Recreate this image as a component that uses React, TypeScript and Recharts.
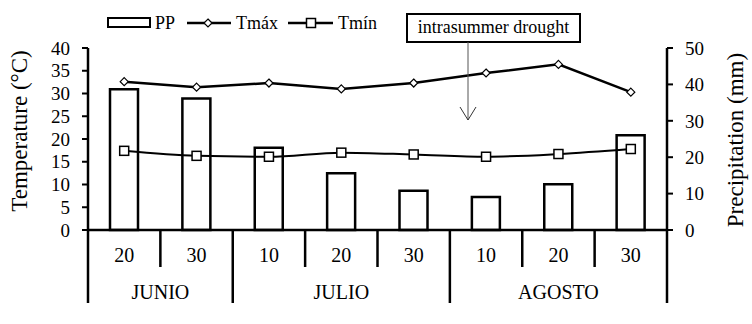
import { Bar, ComposedChart, Line, XAxis, YAxis } from "recharts";

// dekads (day of month) and month groups
const days = ["20", "30", "10", "20", "30", "10", "20", "30"];
const months = ["JUNIO", "JULIO", "AGOSTO"];
const monthSpans = [2, 3, 3];

// PP in mm, temperatures in °C
const precipitation = [38.7, 36.1, 22.6, 15.6, 10.8, 9.1, 12.6, 26.0];
const tMax = [32.6, 31.4, 32.3, 31.0, 32.3, 34.5, 36.4, 30.3];
const tMin = [17.4, 16.3, 16.1, 17.0, 16.6, 16.1, 16.7, 17.8];

const tempTicks = [0, 5, 10, 15, 20, 25, 30, 35, 40];
const precipTicks = [0, 10, 20, 30, 40, 50];

const data = days.map((d, i) => ({
  id: `${i}-${d}`,
  pp: precipitation[i],
  tmax: tMax[i],
  tmin: tMin[i],
}));

const W = 752;
const H = 324;
const LEFT = 88;
const RIGHT = 85;
const TOP = 48;
const BOTTOM = 94;
const AXIS_Y = H - BOTTOM;
const BAND = (W - LEFT - RIGHT) / days.length;
const FONT = "Liberation Serif, Times New Roman, DejaVu Serif, serif";

const monthStarts = monthSpans.map((_, m) => monthSpans.slice(0, m).reduce((a, b) => a + b, 0));

function DayTick(props: any) {
  const { x, index } = props;
  const half = BAND / 2;
  const m = monthStarts.indexOf(index);
  const isStart = m >= 0;
  const isLast = index === days.length - 1;
  return (
    <g>
      <text x={x} y={AXIS_Y + 32} textAnchor="middle" fontSize={20} fill="#000" fontFamily={FONT}>
        {days[index]}
      </text>
      <line
        x1={x - half}
        x2={x - half}
        y1={AXIS_Y}
        y2={isStart ? AXIS_Y + 73 : AXIS_Y + 37}
        stroke="#000"
        strokeWidth={2.5}
      />
      {isLast && (
        <line x1={x + half} x2={x + half} y1={AXIS_Y} y2={AXIS_Y + 73} stroke="#000" strokeWidth={2.5} />
      )}
      {isStart && (
        <text
          x={x - half + (monthSpans[m] * BAND) / 2}
          y={AXIS_Y + 69}
          textAnchor="middle"
          fontSize={20}
          fill="#000"
          fontFamily={FONT}
        >
          {months[m]}
        </text>
      )}
    </g>
  );
}

function Diamond(props: any) {
  const { cx, cy } = props;
  if (cx == null || cy == null) return null;
  const r = 4;
  return (
    <path
      d={`M${cx},${cy - r}L${cx + r},${cy}L${cx},${cy + r}L${cx - r},${cy}Z`}
      fill="#fff"
      stroke="#000"
      strokeWidth={1.2}
    />
  );
}

function Square(props: any) {
  const { cx, cy } = props;
  if (cx == null || cy == null) return null;
  const s = 9;
  return <rect x={cx - s / 2} y={cy - s / 2} width={s} height={s} fill="#fff" stroke="#000" strokeWidth={1.5} />;
}

const axisTick = { fill: "#000", fontSize: 19, fontFamily: FONT };

export default function App() {
  return (
    <div style={{ position: "relative", width: W, height: H, fontFamily: FONT, background: "#fff" }}>
      <style>{`body{margin:0}`}</style>
      <ComposedChart width={W} height={H} data={data} margin={{ top: TOP, right: 0, bottom: 0, left: 0 }}>
        <XAxis
          dataKey="id"
          height={BOTTOM}
          interval={0}
          tickLine={false}
          axisLine={{ stroke: "#000", strokeWidth: 2.5 }}
          tick={<DayTick />}
        />
        <YAxis
          yAxisId="temp"
          width={LEFT}
          domain={[0, 40]}
          ticks={tempTicks}
          interval={0}
          tickSize={6}
          tickMargin={12}
          axisLine={{ stroke: "#000", strokeWidth: 2.5 }}
          tickLine={{ stroke: "#000", strokeWidth: 2 }}
          tick={axisTick}
        />
        <YAxis
          yAxisId="pp"
          orientation="right"
          width={RIGHT}
          domain={[0, 50]}
          ticks={precipTicks}
          interval={0}
          tickSize={6}
          tickMargin={12}
          axisLine={{ stroke: "#000", strokeWidth: 2.5 }}
          tickLine={{ stroke: "#000", strokeWidth: 2 }}
          tick={axisTick}
        />
        <Bar yAxisId="pp" dataKey="pp" barSize={28} fill="#fff" stroke="#000" strokeWidth={2.5} isAnimationActive={false} />
        <Line
          yAxisId="temp"
          dataKey="tmax"
          type="linear"
          stroke="#000"
          strokeWidth={2.5}
          dot={<Diamond />}
          isAnimationActive={false}
        />
        <Line
          yAxisId="temp"
          dataKey="tmin"
          type="monotone"
          stroke="#000"
          strokeWidth={2}
          dot={<Square />}
          isAnimationActive={false}
        />
      </ComposedChart>

      <svg
        width={W}
        height={H}
        fontFamily={FONT}
        style={{ position: "absolute", left: 0, top: 0, pointerEvents: "none" }}
      >
        {/* axis titles */}
        <text x={19} y={131} fontSize={23} textAnchor="middle" dominantBaseline="central" transform="rotate(-90 19 131)">
          Temperature (°C)
        </text>
        <text x={735} y={140} fontSize={23} textAnchor="middle" dominantBaseline="central" transform="rotate(-90 735 140)">
          Precipitation (mm)
        </text>

        {/* legend */}
        <rect x={108} y={18} width={42} height={9} fill="#fff" stroke="#000" strokeWidth={2} />
        <text x={155} y={29} fontSize={18}>PP</text>
        <line x1={187} x2={231} y1={23} y2={23} stroke="#000" strokeWidth={2.5} />
        <Diamond cx={208} cy={23} />
        <text x={236} y={29} fontSize={18}>Tmáx</text>
        <line x1={288} x2={333} y1={23} y2={23} stroke="#000" strokeWidth={2.5} />
        <Square cx={311} cy={23} />
        <text x={338} y={29} fontSize={18}>Tmín</text>

        {/* annotation */}
        <rect x={407} y={14} width={173} height={28} fill="#fff" stroke="#000" strokeWidth={2} />
        <text x={493.5} y={33} fontSize={18} textAnchor="middle">intrasummer drought</text>
        <line x1={468} x2={468} y1={42} y2={120} stroke="#555" strokeWidth={1} />
        <polyline points="460,107 468,120 476,107" fill="none" stroke="#333" strokeWidth={1} />
      </svg>
    </div>
  );
}
